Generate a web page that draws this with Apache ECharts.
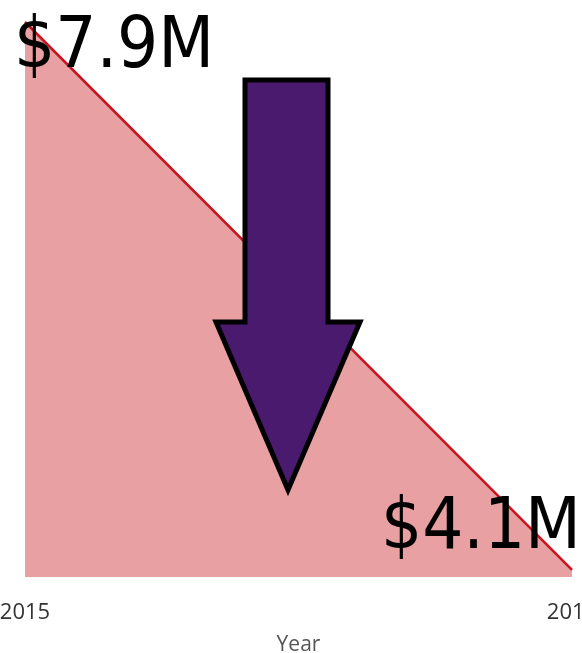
<!DOCTYPE html>
<html>
<head>
<meta charset="utf-8">
<script src="https://cdn.jsdelivr.net/npm/echarts@6/dist/echarts.min.js"></script>
<style>
  html, body { margin: 0; padding: 0; background: #fff; }
  #chart { width: 582px; height: 653px; }
</style>
</head>
<body>
<div id="chart"></div>
<script>
// data
var years = ['2015', '2016']
var revenue = [7.9, 4.1]   // $M

var chart = echarts.init(document.getElementById('chart'))

var labelFont = '"DejaVu Sans Condensed", "DejaVu Sans", sans-serif'

chart.setOption({
  animation: false,
  grid: { left: 25, right: 10, top: 22, bottom: 76, outerBoundsMode: 'none', containLabel: false },
  xAxis: {
    type: 'category',
    data: years,
    boundaryGap: false,
    name: 'Year',
    nameLocation: 'middle',
    nameGap: 58,
    nameTextStyle: { color: '#555', fontSize: 21, fontFamily: 'Open Sans, sans-serif' },
    axisLine: { show: false },
    axisTick: { show: false },
    axisLabel: { color: '#333', fontSize: 22, margin: 25, fontFamily: 'Open Sans, sans-serif' }
  },
  yAxis: {
    type: 'value',
    min: 4.05,
    max: 7.9,
    show: false
  },
  series: [{
    type: 'line',
    data: [
      {
        value: revenue[0],
        label: { align: 'left', verticalAlign: 'middle', offset: [-11, 26] }
      },
      {
        value: revenue[1],
        label: { align: 'right', verticalAlign: 'middle', offset: [9, -40] }
      }
    ],
    symbol: 'circle',
    symbolSize: 0.1,
    showSymbol: true,
    lineStyle: { color: '#c8141e', width: 2.5 },
    itemStyle: { color: '#c8141e' },
    areaStyle: { color: '#e8a0a3', opacity: 1, origin: 'start' },
    label: {
      show: true,
      position: 'inside',
      color: '#000',
      fontSize: 72,
      fontFamily: labelFont,
      formatter: function (p) { return '$' + p.value.toFixed(1) + 'M' }
    },
    z: 2
  }],
  // decorative down arrow
  graphic: [{
    type: 'polygon',
    z: 100,
    shape: {
      points: [[245, 80], [328, 80], [328, 322], [360, 322], [288, 490], [216, 322], [245, 322]]
    },
    style: { fill: '#4a1a6e', stroke: '#000', lineWidth: 5, lineJoin: 'miter' }
  }]
})
</script>
</body>
</html>
